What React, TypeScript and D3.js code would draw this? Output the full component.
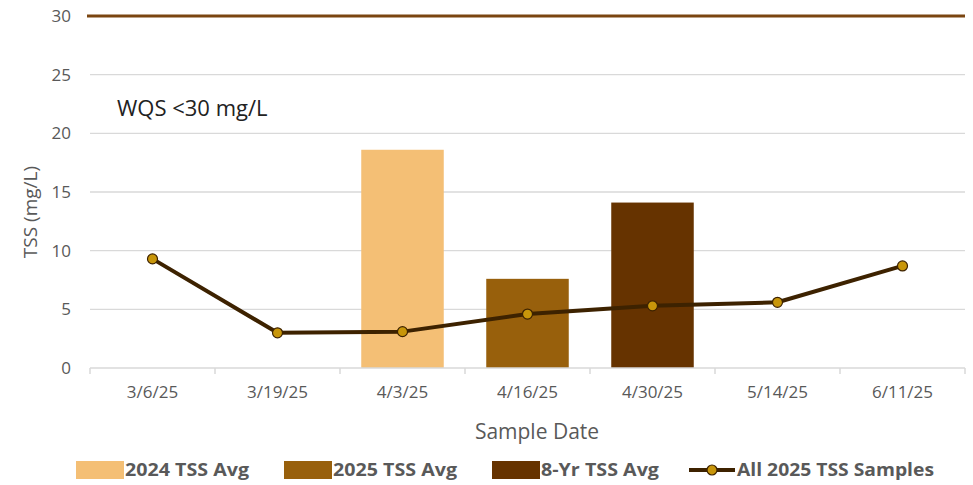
import React from "react";
import * as d3 from "d3";

const categories = ["3/6/25", "3/19/25", "4/3/25", "4/16/25", "4/30/25", "5/14/25", "6/11/25"];
const samples2025 = [9.3, 3.0, 3.1, 4.6, 5.3, 5.6, 8.7];
const avgBars = [
  { name: "2024 TSS Avg", category: "4/3/25", value: 18.6, color: "#F4BF75" },
  { name: "2025 TSS Avg", category: "4/16/25", value: 7.6, color: "#98600C" },
  { name: "8-Yr TSS Avg", category: "4/30/25", value: 14.1, color: "#663300" },
];
const yTicks = [0, 5, 10, 15, 20, 25, 30];
const wqsLimit = 30;

const W = 973;
const H = 485;
const left = 90;
const right = 965;
const top = 16;
const bottom = 368;
const FONT = "'Open Sans', 'Noto Sans', sans-serif";

export default function App() {
  const x = d3.scaleBand<string>().domain(categories).range([left, right]).padding(0);
  const y = d3.scaleLinear().domain([0, 30]).range([bottom, top]);
  const bw = x.bandwidth();
  const barPad = 0.17;
  const lineGen = d3
    .line<number>()
    .x((_, i) => (x(categories[i]) as number) + bw / 2)
    .y((d) => y(d));

  const legend = [
    { type: "rect", label: "2024 TSS Avg", color: "#F4BF75", x: 76, tl: 124 },
    { type: "rect", label: "2025 TSS Avg", color: "#98600C", x: 284, tl: 124 },
    { type: "rect", label: "8-Yr TSS Avg", color: "#663300", x: 492, tl: 118 },
    { type: "line", label: "All 2025 TSS Samples", color: "#3D2200", x: 689, tl: 197 },
  ];

  return (
    <svg width={W} height={H} style={{ position: "absolute", left: 0, top: 0 }} fontFamily={FONT}>
      <rect x={0} y={0} width={W} height={H} fill="#fff" />
      {yTicks.filter((t) => t !== 0 && t !== wqsLimit).map((t) => (
        <line key={t} x1={left} x2={right} y1={y(t)} y2={y(t)} stroke="#D9D9D9" strokeWidth={1.3} />
      ))}
      {yTicks.map((t) => (
        <text key={"l" + t} x={71} y={y(t)} dy="0.36em" textAnchor="end" fontSize={17} fill="#595959">
          {t}
        </text>
      ))}
      {avgBars.map((b) => (
        <rect
          key={b.name}
          x={(x(b.category) as number) + bw * barPad}
          width={bw * (1 - 2 * barPad)}
          y={y(b.value)}
          height={y(0) - y(b.value)}
          fill={b.color}
        />
      ))}
      <line x1={left} x2={right} y1={bottom} y2={bottom} stroke="#D9D9D9" strokeWidth={1.5} />
      {d3.range(categories.length + 1).map((i) => (
        <line key={"t" + i} x1={left + i * bw} x2={left + i * bw} y1={bottom} y2={bottom + 6} stroke="#D9D9D9" strokeWidth={1.5} />
      ))}
      <line x1={87} x2={right} y1={y(wqsLimit)} y2={y(wqsLimit)} stroke="#7A4510" strokeWidth={3} />
      {categories.map((c) => (
        <text key={c} x={(x(c) as number) + bw / 2} y={398} textAnchor="middle" fontSize={17} fill="#595959">
          {c}
        </text>
      ))}
      <path d={lineGen(samples2025) || ""} fill="none" stroke="#3D2200" strokeWidth={4} strokeLinejoin="round" />
      {samples2025.map((v, i) => (
        <circle key={i} cx={(x(categories[i]) as number) + bw / 2} cy={y(v)} r={5} fill="#C8960A" stroke="#3D2200" strokeWidth={1.2} />
      ))}
      <text x={117} y={108} dy="0.35em" fontSize={22} fill="#222">WQS &lt;30 mg/L</text>
      <text transform={`translate(37,${(top + bottom) / 2 + 20}) rotate(-90)`} textAnchor="middle" fontSize={19} fill="#595959">
        TSS (mg/L)
      </text>
      <text x={537} y={439} textAnchor="middle" fontSize={21} fill="#595959">Sample Date</text>
      {legend.map((l) =>
        l.type === "rect" ? (
          <g key={l.label}>
            <rect x={l.x} y={461} width={48} height={18} fill={l.color} />
            <text x={l.x + 49} y={470} dy="0.36em" fontSize={17} fontWeight="bold" fill="#595959" textLength={l.tl} lengthAdjust="spacingAndGlyphs">{l.label}</text>
          </g>
        ) : (
          <g key={l.label}>
            <line x1={l.x} x2={l.x + 46} y1={470} y2={470} stroke={l.color} strokeWidth={4} />
            <circle cx={l.x + 23} cy={470} r={5} fill="#C8960A" stroke="#3D2200" strokeWidth={1.2} />
            <text x={l.x + 48} y={470} dy="0.36em" fontSize={17} fontWeight="bold" fill="#595959" textLength={l.tl} lengthAdjust="spacingAndGlyphs">{l.label}</text>
          </g>
        )
      )}
    </svg>
  );
}
